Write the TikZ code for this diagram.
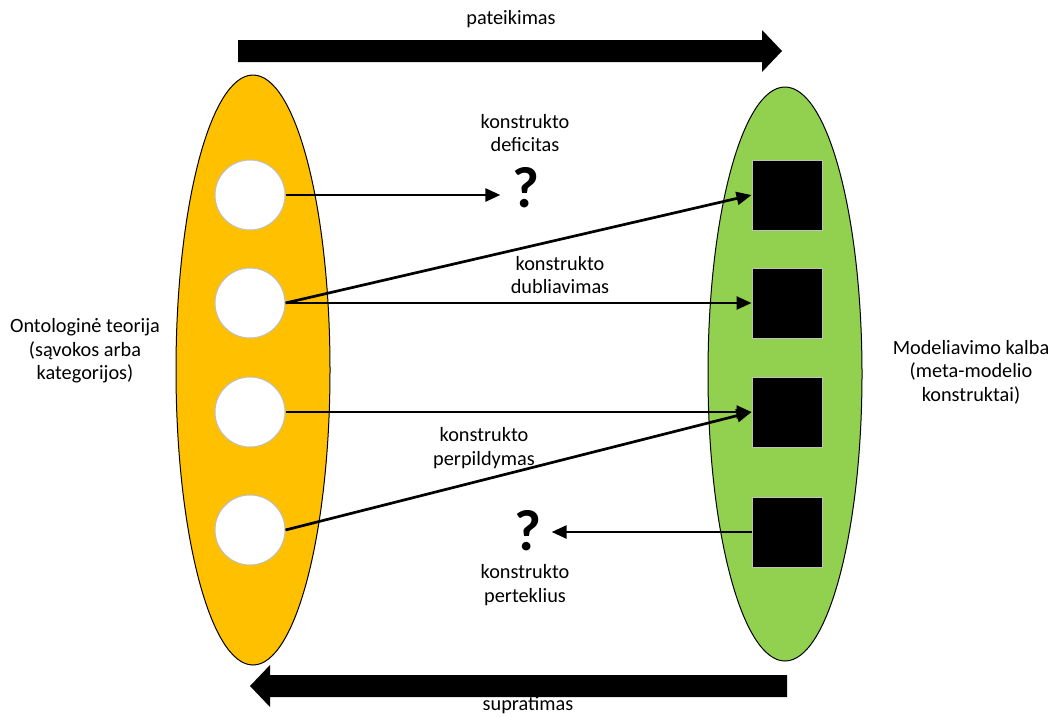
\documentclass[tikz,border=0pt]{standalone}
\usepackage{fontspec}
\setmainfont{Carlito}
\usetikzlibrary{arrows.meta}
\begin{document}
\begin{tikzpicture}[x=1pt,y=-1pt,
 lbl/.style={align=center,font=\fontsize{20.3}{23.5}\selectfont,inner sep=0pt},
 circ/.style={circle,fill=white,draw=black!25,line width=1pt,minimum size=70pt,inner sep=0pt},
 sq/.style={rectangle,fill=black,draw=black!25,line width=1pt,minimum size=70pt,inner sep=0pt},
 conn/.style={line width=2.7pt,-{Triangle[length=15pt,width=13pt]}},
 qm/.style={font=\fontsize{58}{58}\selectfont\bfseries,inner sep=0pt},
 ell/.style={draw=black,line width=1pt},
 bigarrow/.style={fill=black}
]
\useasboundingbox (0,0) rectangle (1054,716);
\definecolor{orng}{HTML}{FFC000}
\definecolor{grn}{HTML}{92D050}

% big arrows
\fill[bigarrow] (238,40) -- (762,40) -- (762,30) -- (782,51) -- (762,72) -- (762,62) -- (238,62) -- cycle;
\fill[bigarrow] (787,675) -- (270,675) -- (270,665) -- (250,686) -- (270,707) -- (270,697) -- (787,697) -- cycle;
\node[lbl] (tp) at (511,19) {pateikimas};
\node[lbl] (bt) at (528,705) {supratimas};

% ellipses
\draw[ell,fill=orng] (253,370) ellipse [x radius=77, y radius=295];
\draw[ell,fill=grn] (785,374) ellipse [x radius=77, y radius=287];

% circles
\node[circ] (c1) at (250,195) {};
\node[circ] (c2) at (250,303) {};
\node[circ] (c3) at (250,412) {};
\node[circ] (c4) at (250,530) {};

% squares
\node[sq] (s1) at (787,195) {};
\node[sq] (s2) at (787,303) {};
\node[sq] (s3) at (787,412) {};
\node[sq] (s4) at (787,532) {};

% question marks
\node[qm] (q1) at (526,188) {?};
\node[qm] (q2) at (528,531) {?};

% labels
\node[lbl] (ld) at (525,133) {konstrukto\\deficitas};
\node[lbl] (lb) at (560,275) {konstrukto\\dubliavimas};
\node[lbl] (lp) at (484,448) {konstrukto\\perpildymas};
\node[lbl] (lt) at (525,585) {konstrukto\\perteklius};
\node[lbl] (ll) at (85,351) {Ontologinė teorija\\(sąvokos arba\\kategorijos)};
\node[lbl] (lr) at (971,372) {Modeliavimo kalba\\(meta-modelio\\konstruktai)};

% connectors
\draw[conn,shorten >=12pt] (c1.east) -- (c1.east -| q1.west);
\draw[conn] (c2.east) -- (s1.west);
\draw[conn] (c2.east) -- (s2.west);
\draw[conn] (c3.east) -- (s3.west);
\draw[conn] (c4.east) -- (s3.west);
\draw[conn,shorten >=10pt] (s4.west) -- (s4.west -| q2.east);
\end{tikzpicture}
\end{document}
